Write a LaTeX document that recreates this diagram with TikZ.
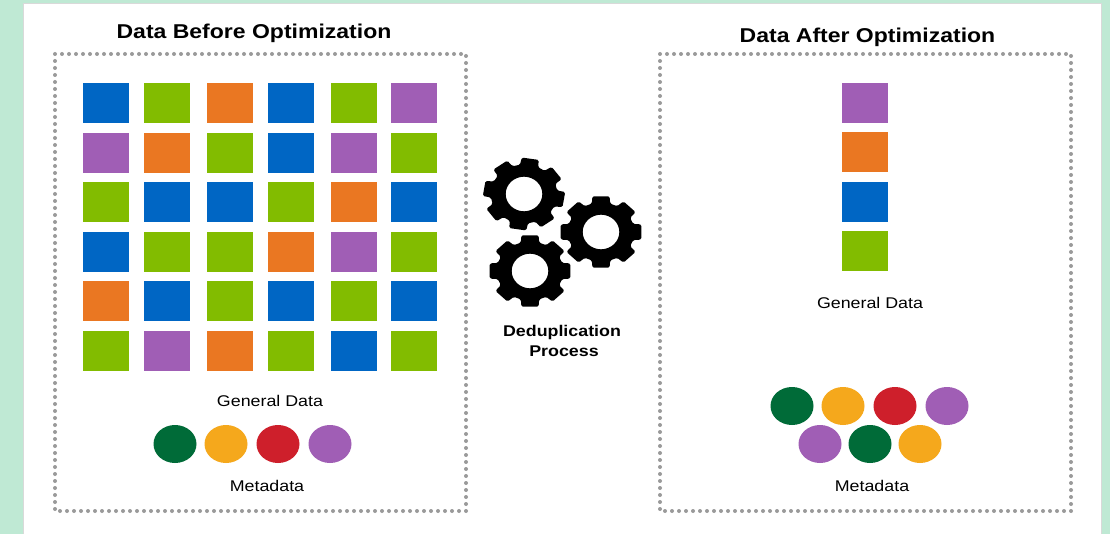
\documentclass[tikz,border=0pt]{standalone}
\usepackage{fontspec}
\setmainfont{Liberation Sans}[FakeStretch=1.15]
\usetikzlibrary{shapes.geometric}
\definecolor{bg}{HTML}{BFE9D4}
\definecolor{cb}{HTML}{0066C4}
\definecolor{cg}{HTML}{82BC00}
\definecolor{co}{HTML}{EA7722}
\definecolor{cp}{HTML}{A05EB5}
\definecolor{dg}{HTML}{006B38}
\definecolor{dy}{HTML}{F5A81C}
\definecolor{dr}{HTML}{CE1F2B}
\definecolor{dotc}{HTML}{9A9A9A}
\tikzset{
 sq/.style={rectangle,minimum width=46pt,minimum height=40pt,inner sep=0pt,fill=#1},
 dot/.style={ellipse,minimum width=43pt,minimum height=38pt,inner sep=0pt,fill=#1},
 panel/.style={draw=dotc,line width=4pt,line cap=round,dash pattern=on 0pt off 7pt},
 ttl/.style={font=\fontsize{20}{24}\bfseries\selectfont,inner sep=0pt},
 lbl/.style={font=\fontsize{15.5}{18}\selectfont,inner sep=0pt},
 blbl/.style={font=\fontsize{15.5}{19}\bfseries\selectfont,inner sep=0pt,align=center},
}
\newcommand{\gearshape}[3]{% x, y, rotation
 \begin{scope}[shift={(#1,#2)},xscale=1.13]
 \fill[black,even odd rule,rounded corners=1.5pt]
  \foreach \k in {0,...,7}{
   \ifnum\k=0 (#3+\k*45-16:29.5) \else -- (#3+\k*45-16:29.5) \fi
   -- (#3+\k*45-12:36.5) -- (#3+\k*45+12:36.5) -- (#3+\k*45+16:29.5)
  } -- cycle
  (0,0) ellipse[x radius=16.2,y radius=17.3];
 \end{scope}
}
\begin{document}
\begin{tikzpicture}[x=1pt,y=-1pt]
\useasboundingbox (0,0) rectangle (1110,534);
\fill[bg] (0,0) rectangle (1110,534);
\fill[white,draw=black!15,line width=0.7pt] (23,3) rectangle (1101,540);
\draw[panel] (55,54) rectangle (466,511);
\draw[panel] (660,54) rectangle (1071,511);
\node[ttl] (t1) at (254,33.5) {Data Before Optimization};
\node[ttl] (t2) at (867.5,37.5) {Data After Optimization};
% left grid
\def\gridrow#1#2#3#4#5#6#7#8{%
 \node[sq=#3] (a#1) at (106,#2) {};
 \node[sq=#4] (b#1) at (167,#2) {};
 \node[sq=#5] (c#1) at (230,#2) {};
 \node[sq=#6] (d#1) at (291,#2) {};
 \node[sq=#7] (e#1) at (354,#2) {};
 \node[sq=#8] (f#1) at (414,#2) {};
}
\gridrow{1}{103}{cb}{cg}{co}{cb}{cg}{cp}
\gridrow{2}{153}{cp}{co}{cg}{cb}{cp}{cg}
\gridrow{3}{202}{cg}{cb}{cb}{cg}{co}{cb}
\gridrow{4}{252}{cb}{cg}{cg}{co}{cp}{cg}
\gridrow{5}{301}{co}{cb}{cg}{cb}{cg}{cb}
\gridrow{6}{351}{cg}{cp}{co}{cg}{cb}{cg}
\node[lbl] (g1) at (270,401) {General Data};
\node[dot=dg] (m1) at (175,444) {};
\node[dot=dy] (m2) at (226,444) {};
\node[dot=dr] (m3) at (278,444) {};
\node[dot=cp] (m4) at (330,444) {};
\node[lbl] (md1) at (267,486) {Metadata};
% right
\node[sq=cp] (r1) at (865,103) {};
\node[sq=co] (r2) at (865,152) {};
\node[sq=cb] (r3) at (865,202) {};
\node[sq=cg] (r4) at (865,251) {};
\node[lbl] (g2) at (870,303) {General Data};
\node[dot=dg] (n1) at (792,406) {};
\node[dot=dy] (n2) at (843,406) {};
\node[dot=dr] (n3) at (895,406) {};
\node[dot=cp] (n4) at (947,406) {};
\node[dot=cp] (n5) at (820,444) {};
\node[dot=dg] (n6) at (870,444) {};
\node[dot=dy] (n7) at (920,444) {};
\node[lbl] (md2) at (872,486) {Metadata};
% gears
\gearshape{524}{194}{9}
\gearshape{601}{232}{0}
\gearshape{530}{271}{0}
\node[blbl] (dd) at (562,332) {Deduplication};
\node[blbl] (dp) at (564,351) {Process};
\end{tikzpicture}
\end{document}
